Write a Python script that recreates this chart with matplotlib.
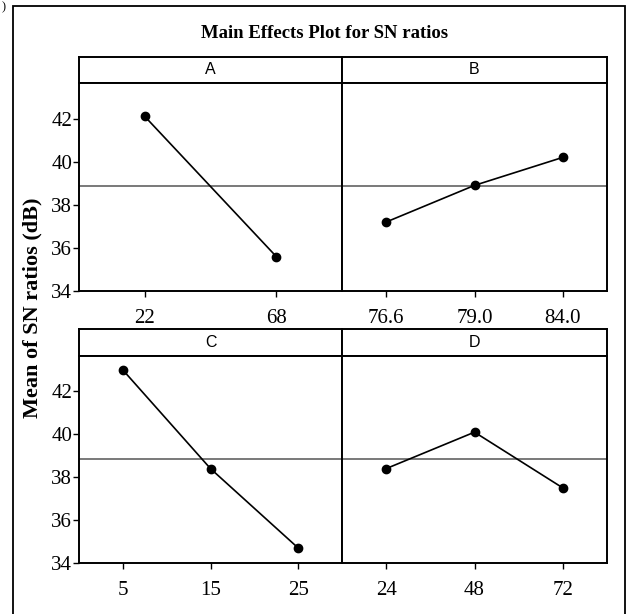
import matplotlib
matplotlib.use("Agg")
import matplotlib.pyplot as plt
import matplotlib.patches as mpatches
import numpy as np

# ---- data ----
factors = ["A", "B", "C", "D"]
levels_A = ["22", "68"]
levels_B = ["76.6", "79.0", "84.0"]
levels_C = ["5", "15", "25"]
levels_D = ["24", "48", "72"]
sn_A = [42.1, 35.6]
sn_B = [37.2, 38.9, 40.2]
sn_C = [43.0, 38.4, 34.7]
sn_D = [38.4, 40.1, 37.5]
overall_mean = 38.85
y_ticks = [34, 36, 38, 40, 42]

W, H = 635, 614
fig = plt.figure(figsize=(W / 100, H / 100), dpi=100)

def fx(px):
    return px / W

def fy(py):
    return 1 - py / H

serif = ["Liberation Serif", "DejaVu Serif"]
sans = ["Liberation Sans Narrow", "Liberation Sans", "DejaVu Sans"]

# outer border
fig.patches.append(mpatches.Rectangle((fx(13), fy(620)), fx(625) - fx(13), fy(6) - fy(620),
                                      transform=fig.transFigure, fill=False,
                                      edgecolor="black", linewidth=1.3, clip_on=True))
fig.text(fx(2), fy(7), ")", fontsize=9, family=serif, va="center", ha="left")

fig.text(fx(325), fy(33), "Main Effects Plot for SN ratios", family=serif,
         fontsize=13.5, fontweight="bold", ha="center", va="center")

fig.text(fx(32), fy(308), "Mean of SN ratios (dB)", family=serif, fontsize=16,
         fontweight="bold", rotation=90, ha="center", va="center")

panels = [
    (factors[0], levels_A, sn_A, 79, 342, 57, 83, 291, True),
    (factors[1], levels_B, sn_B, 342, 607, 57, 83, 291, False),
    (factors[2], levels_C, sn_C, 79, 342, 329, 356, 563, True),
    (factors[3], levels_D, sn_D, 342, 607, 329, 356, 563, False),
]

for name, levels, vals, x0, x1, s0, s1, y1, show_y in panels:
    # strip
    sax = fig.add_axes([fx(x0), fy(s1), fx(x1) - fx(x0), fy(s0) - fy(s1)])
    sax.set_xticks([])
    sax.set_yticks([])
    for sp in sax.spines.values():
        sp.set_linewidth(1.4)
    sax.text(0.5, 0.5, name, family=sans, fontsize=11.5, ha="center", va="center",
             transform=sax.transAxes)

    ax = fig.add_axes([fx(x0), fy(y1), fx(x1) - fx(x0), fy(s1) - fy(y1)])
    pos = np.arange(1, len(levels) + 1)
    ax.axhline(overall_mean, color="#555555", linewidth=1.1, zorder=1)
    ax.plot(pos, vals, color="black", linewidth=1.2, marker="o", markersize=6,
            markerfacecolor="black", zorder=3)
    ax.set_xlim(0.5, len(levels) + 0.5)
    ax.set_ylim(34, 43.65)
    ax.set_xticks(pos)
    ax.set_xticklabels(levels, family=serif, fontsize=15)
    if show_y:
        ax.set_yticks(y_ticks)
        ax.set_yticklabels([str(t) for t in y_ticks], family=serif, fontsize=15)
    else:
        ax.set_yticks([])
    ax.tick_params(direction="out", length=4, width=1)
    ax.tick_params(axis="x", pad=9)
    ax.tick_params(axis="y", pad=1)
    for sp in ax.spines.values():
        sp.set_linewidth(1.4)

fig.savefig("out.png", dpi=100)
